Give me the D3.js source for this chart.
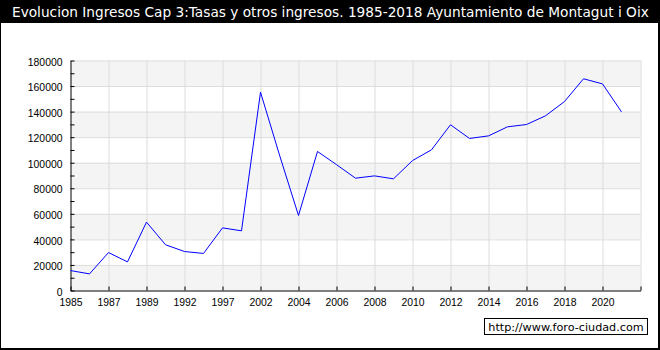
<!DOCTYPE html>
<html>
<head>
<meta charset="utf-8">
<script src="https://cdn.jsdelivr.net/npm/d3@7"></script>
<style>
  body { margin: 0; background: #fff; }
  svg { display: block; font-family: "DejaVu Sans", Verdana, sans-serif; }
</style>
</head>
<body>
<svg id="chart" width="660" height="350"></svg>
<script>
// años (eje categórico, etiqueta cada dos)
const years = ["1985", "1986", "1987", "1988", "1989", "1990", "1992", "1994", "1997", "1999",
  "2002", "2003", "2004", "2005", "2006", "2007", "2008", "2009", "2010", "2011",
  "2012", "2013", "2014", "2015", "2016", "2017", "2018", "2019", "2020", "2021"];
const values = [15600, 13000, 29700, 22400, 53500, 35800, 30500, 29000, 49000, 46700,
  155200, 106000, 58700, 108800, 98500, 87900, 89700, 87400, 101700, 110100,
  129700, 119000, 121000, 128100, 129900, 136700, 147900, 165700, 161700, 139800];
const yTicks = d3.range(0, 180001, 10000);
const title = "Evolucion Ingresos Cap 3:Tasas y otros ingresos. 1985-2018 Ayuntamiento de Montagut i Oix";
const credit = "http://www.foro-ciudad.com";

const svg = d3.select("#chart");
const W = 660, H = 350;
const mLeft = 70.5, mRight = 640.5, mTop = 60.5, mBottom = 290.5;

// x: posiciones por índice, una casilla más al final
const x = d3.scaleLinear().domain([0, years.length]).range([mLeft, mRight]);
const y = d3.scaleLinear().domain([0, 180000]).range([mBottom, mTop]);

// marco y barra de título
svg.append("rect").attr("x", 0.5).attr("y", 0.5).attr("width", W - 2).attr("height", H - 1.5)
  .attr("fill", "#fff").attr("stroke", "#000").attr("stroke-width", 1);
svg.append("line").attr("x1", W - 1).attr("x2", W - 1).attr("y1", 0).attr("y2", H)
  .attr("stroke", "#000").attr("stroke-width", 2);
svg.append("line").attr("x1", 0).attr("x2", W).attr("y1", H - 1).attr("y2", H - 1)
  .attr("stroke", "#000").attr("stroke-width", 2);
svg.append("rect").attr("x", 0).attr("y", 0).attr("width", W).attr("height", 23).attr("fill", "#000");
svg.append("text").attr("x", 12).attr("y", 16.5).attr("fill", "#fff")
  .style("font-size", "13.7px").text(title);

// bandas alternas
const bands = d3.range(0, 180000, 40000);
svg.append("g").selectAll("rect").data(bands).join("rect")
  .attr("x", mLeft).attr("width", mRight - mLeft)
  .attr("y", d => y(d + 20000)).attr("height", d => y(d) - y(d + 20000))
  .attr("fill", "#f4f4f4");

// rejilla
const xTickIdx = d3.range(0, years.length + 1, 2);
svg.append("g").attr("transform", `translate(0,${mTop})`)
  .call(d3.axisBottom(x).tickValues(xTickIdx.slice(1)).tickSize(mBottom - mTop).tickFormat(""))
  .call(g => g.select(".domain").remove())
  .call(g => g.selectAll("line").attr("stroke", "#dcdcdc"));
svg.append("g").attr("transform", `translate(${mLeft},0)`)
  .call(d3.axisRight(y).tickValues(d3.range(20000, 180001, 20000)).tickSize(mRight - mLeft).tickFormat(""))
  .call(g => g.select(".domain").remove())
  .call(g => g.selectAll("line").attr("stroke", "#dcdcdc"));

// ejes
svg.append("g").attr("transform", `translate(${mLeft},0)`)
  .call(d3.axisLeft(y).tickValues(yTicks).tickSizeInner(-4).tickSizeOuter(0).tickPadding(8)
    .tickFormat(d => d % 20000 === 0 ? d : ""))
  .call(g => g.selectAll("text").style("font-size", "10.4px").attr("fill", "#000").attr("dy", "0.45em"))
  .call(g => g.select(".domain").attr("stroke", "#000"));

svg.append("g").attr("transform", `translate(0,${mBottom})`)
  .call(d3.axisBottom(x).tickValues(xTickIdx).tickSizeInner(-4).tickSizeOuter(0).tickPadding(8.5)
    .tickFormat(i => years[i] || ""))
  .call(g => g.selectAll("text").style("font-size", "10.4px").attr("fill", "#000"))
  .call(g => g.select(".domain").attr("stroke", "#000"));

// serie
svg.append("path").datum(values)
  .attr("fill", "none").attr("stroke", "#0000ff").attr("stroke-width", 1)
  .attr("d", d3.line().x((d, i) => x(i)).y(d => y(d)));

// marca de agua
svg.append("rect").attr("x", 484.5).attr("y", 318.5).attr("width", 163).attr("height", 16)
  .attr("fill", "#fff").attr("stroke", "#000");
svg.append("text").attr("x", 566).attr("y", 330.5).attr("text-anchor", "middle")
  .style("font-size", "11.2px").text(credit);
</script>
</body>
</html>
